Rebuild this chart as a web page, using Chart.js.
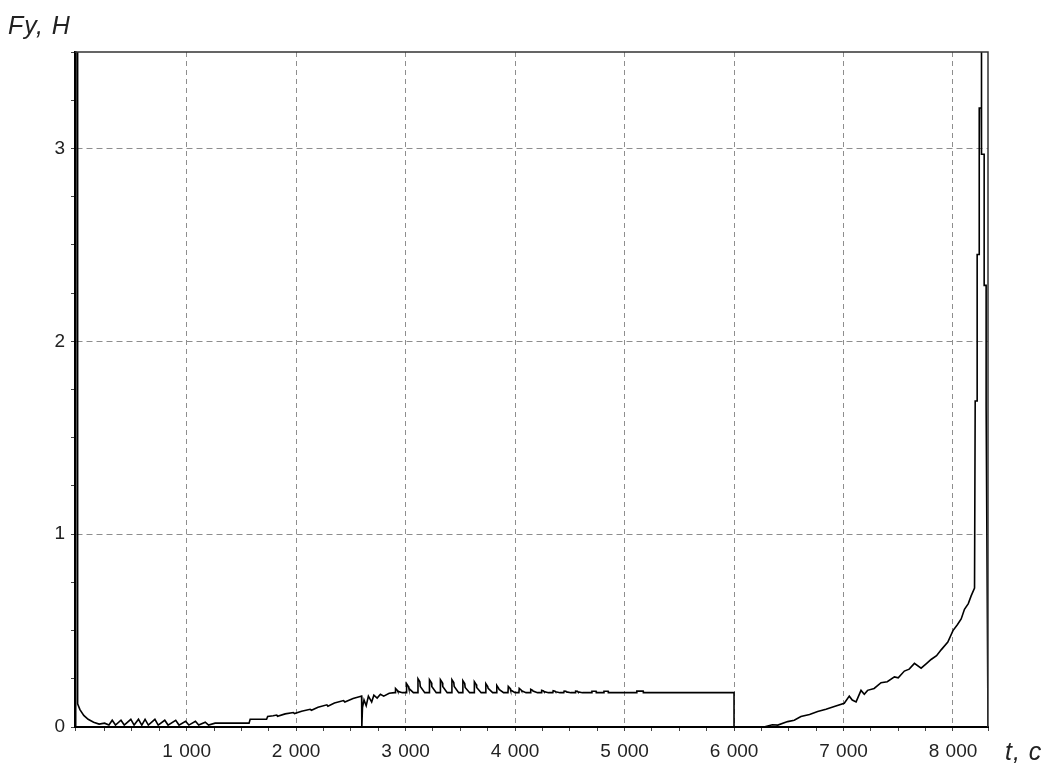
<!DOCTYPE html>
<html>
<head>
<meta charset="utf-8">
<script src="https://cdn.jsdelivr.net/npm/chart.js@4/dist/chart.umd.min.js"></script>
<style>
  body { margin: 0; background: #fff; }
  #wrap { position: relative; width: 1043px; height: 763px; }
  .axis-title {
    position: absolute;
    font-family: "Liberation Sans", Arial, sans-serif;
    font-style: italic;
    font-size: 25px;
    line-height: 25px;
    letter-spacing: 1px;
    color: #222;
    white-space: pre;
  }
</style>
</head>
<body>
<div id="wrap">
  <canvas id="chart" width="1043" height="763"></canvas>
  <div class="axis-title" style="left:8px; top:13px;">Fy, H</div>
  <div class="axis-title" style="left:1005px; top:739px;">t, c</div>
</div>
<script>
// время, с
const timeS = [
  0, 4, 25, 60, 100, 150, 200, 250, 290, 320, 350, 400, 430, 490, 520, 560, 590, 620, 650,
  710, 740, 800, 830, 900, 930, 990, 1020, 1080, 1110, 1170, 1200, 1260, 1300,
  1570, 1580, 1730, 1740,
  1790, 1823, 1830, 1900, 1975, 1985, 2050, 2128, 2140, 2200, 2281, 2290, 2350, 2433, 2445, 2520, 2585,
  2598, 2600, 2606, 2620, 2640, 2660, 2690, 2710, 2740, 2770, 2800, 2850, 2900,
  2905, 2908, 2925, 2929, 2970,
  3006, 3009, 3026, 3030, 3071,
  3110, 3113, 3130, 3134, 3175,
  3215, 3218, 3235, 3239, 3280,
  3315, 3318, 3335, 3339, 3380,
  3420, 3423, 3440, 3444, 3485,
  3520, 3523, 3540, 3544, 3585,
  3625, 3628, 3645, 3649, 3690,
  3730, 3733, 3750, 3754, 3795,
  3830, 3833, 3850, 3854, 3895,
  3935, 3938, 3955, 3959, 4000,
  4035, 4038, 4055, 4059, 4100,
  4140, 4143, 4160, 4164, 4205,
  4240, 4243, 4260, 4264, 4305,
  4345, 4348, 4365, 4369, 4410,
  4445, 4448, 4465, 4469, 4510,
  4550, 4553, 4570, 4574, 4615,
  4700, 4702, 4740, 4742, 4810, 4812, 4850, 4852, 5110, 5112, 5170, 5172,
  6000, 6000, 6273,
  6350, 6400, 6490, 6550, 6611, 6690, 6764, 6840, 6916, 7007, 7053, 7080, 7115, 7160, 7190,
  7220, 7280, 7343, 7400, 7465, 7500, 7556, 7600, 7648, 7709, 7760, 7800, 7850, 7892, 7953,
  8000, 8040, 8075, 8105, 8140, 8166, 8197,
  8203, 8221, 8221, 8240, 8240, 8258, 8258, 8262, 8262, 8285, 8285, 8303, 8303,
  8320, 0
];

// сила Fy, Н
const forceN = [
  3.6, 0.12, 0.09, 0.06, 0.04, 0.025, 0.015, 0.02, 0.01, 0.035, 0.01, 0.035, 0.01, 0.04, 0.01, 0.04, 0.01, 0.04, 0.01,
  0.04, 0.01, 0.035, 0.01, 0.035, 0.01, 0.03, 0.01, 0.03, 0.01, 0.025, 0.01, 0.02, 0.02,
  0.02, 0.04, 0.04, 0.055,
  0.058, 0.062, 0.056, 0.068, 0.075, 0.07, 0.082, 0.092, 0.087, 0.102, 0.115, 0.108, 0.124, 0.137, 0.13, 0.148, 0.158,
  0.16, 0, 0.10, 0.14, 0.11, 0.16, 0.13, 0.165, 0.15, 0.17, 0.16, 0.175, 0.178,
  0.178, 0.20, 0.19, 0.185, 0.178,
  0.178, 0.225, 0.21, 0.20, 0.178,
  0.178, 0.25, 0.235, 0.21, 0.178,
  0.178, 0.245, 0.23, 0.21, 0.178,
  0.178, 0.245, 0.23, 0.21, 0.178,
  0.178, 0.245, 0.23, 0.21, 0.178,
  0.178, 0.24, 0.225, 0.205, 0.178,
  0.178, 0.235, 0.22, 0.205, 0.178,
  0.178, 0.225, 0.21, 0.2, 0.178,
  0.178, 0.215, 0.2, 0.195, 0.178,
  0.178, 0.21, 0.2, 0.192, 0.178,
  0.178, 0.20, 0.192, 0.188, 0.178,
  0.178, 0.195, 0.19, 0.186, 0.178,
  0.178, 0.19, 0.187, 0.184, 0.178,
  0.178, 0.188, 0.186, 0.183, 0.178,
  0.178, 0.186, 0.185, 0.182, 0.178,
  0.178, 0.186, 0.185, 0.182, 0.178,
  0.178, 0.185, 0.185, 0.178, 0.178, 0.185, 0.185, 0.178, 0.178, 0.186, 0.186, 0.178,
  0.178, 0, 0,
  0.012, 0.01, 0.028, 0.035, 0.054, 0.065, 0.08, 0.092, 0.106, 0.123, 0.16, 0.14, 0.13, 0.19, 0.17,
  0.19, 0.2, 0.23, 0.235, 0.26, 0.255, 0.29, 0.3, 0.33, 0.305, 0.33, 0.35, 0.37, 0.40, 0.44,
  0.50, 0.53, 0.56, 0.61, 0.64, 0.68, 0.72,
  1.69, 1.69, 2.45, 2.45, 3.21, 3.21, 3.6, 3.6, 2.97, 2.97, 2.29, 2.29, 1.66,
  0, 0
];

const xMin = -20, xMax = 8320, xStep = 250;
const yMin = 0, yMax = 3.5, yStep = 0.25;

const points = timeS.map((t, i) => ({ x: t, y: forceN[i] }));

const tickFont = { family: '"Liberation Sans", Arial, sans-serif', size: 19 };
const gridGrey = '#8e8e8e';

// рамка сверху и справа
const frame = {
  id: 'frame',
  afterDraw(chart) {
    const { ctx, chartArea: a } = chart;
    ctx.save();
    ctx.strokeStyle = '#333';
    ctx.lineWidth = 1.5;
    ctx.beginPath();
    ctx.moveTo(a.left, a.top);
    ctx.lineTo(a.right, a.top);
    ctx.lineTo(a.right, a.bottom);
    ctx.stroke();
    ctx.restore();
  }
};

new Chart(document.getElementById('chart'), {
  type: 'scatter',
  data: {
    datasets: [{
      data: points,
      showLine: true,
      borderColor: '#000',
      borderWidth: 1.6,
      pointRadius: 0,
      tension: 0
    }]
  },
  options: {
    responsive: false,
    animation: false,
    layout: { padding: { top: 52, right: 55, left: 0, bottom: 0 } },
    plugins: { legend: { display: false }, tooltip: { enabled: false } },
    scales: {
      x: {
        type: 'linear',
        min: xMin,
        max: xMax,
        afterFit: s => { s.height = 36; },
        ticks: {
          stepSize: xStep,
          autoSkip: false,
          maxRotation: 0,
          padding: 9,
          color: '#222',
          font: tickFont,
          callback: v => (v > 0 && v % 1000 === 0) ? (v / 1000) + '\u2004000' : ''
        },
        grid: {
          drawTicks: true,
          tickLength: 4,
          tickColor: '#444',
          color: c => (c.tick && c.tick.value > 0 && c.tick.value % 1000 === 0) ? gridGrey : 'rgba(0,0,0,0)'
        },
        border: { display: true, color: '#000', width: 2, dash: [5, 4] }
      },
      y: {
        min: yMin,
        max: yMax,
        afterFit: s => { s.width = 75; },
        ticks: {
          stepSize: yStep,
          autoSkip: false,
          padding: 6,
          color: '#222',
          font: tickFont,
          callback: v => Number.isInteger(v) ? String(v) : ''
        },
        grid: {
          drawTicks: true,
          tickLength: 4,
          tickColor: '#444',
          color: c => (c.tick && Number.isInteger(c.tick.value) && c.tick.value > 0) ? gridGrey : 'rgba(0,0,0,0)'
        },
        border: { display: true, color: '#000', width: 2.5, dash: [6, 4] }
      }
    }
  },
  plugins: [frame]
});
</script>
</body>
</html>
